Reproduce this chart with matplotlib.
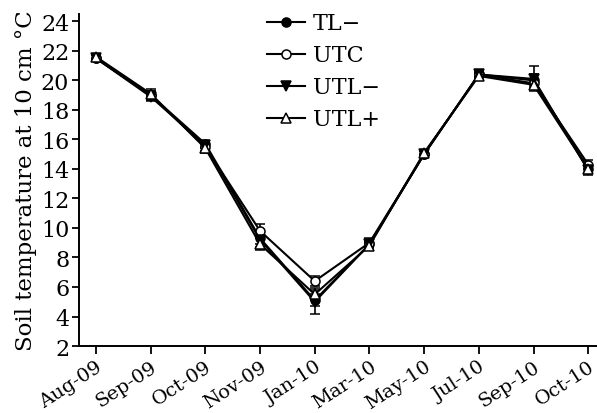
import numpy as np
import matplotlib
matplotlib.use('Agg')
import matplotlib.pyplot as plt

# Data
months = ['Aug-09', 'Sep-09', 'Oct-09', 'Nov-09', 'Jan-10', 'Mar-10',
          'May-10', 'Jul-10', 'Sep-10', 'Oct-10']

tl_minus = [21.5, 19.0, 15.7, 9.3, 5.1, 8.9, 15.0, 20.4, 20.0, 14.0]
tl_minus_err = [0.2, 0.3, 0.2, 0.4, 0.4, 0.2, 0.2, 0.2, 0.4, 0.3]

utc = [21.5, 19.0, 15.5, 9.8, 6.4, 9.0, 15.0, 20.4, 19.8, 14.3]
utc_err = [0.2, 0.3, 0.3, 0.5, 0.35, 0.3, 0.2, 0.2, 0.3, 0.3]

utl_minus = [21.5, 18.9, 15.6, 9.2, 5.0, 8.9, 15.0, 20.4, 20.1, 13.9]
utl_minus_err = [0.2, 0.3, 0.2, 0.5, 0.8, 0.2, 0.2, 0.2, 0.85, 0.3]

utl_plus = [21.6, 19.1, 15.4, 8.9, 5.5, 8.8, 15.1, 20.3, 19.7, 14.0]
utl_plus_err = [0.2, 0.3, 0.3, 0.4, 0.4, 0.2, 0.2, 0.2, 0.3, 0.3]

plt.rcParams['font.family'] = ['DejaVu Serif']

fig = plt.figure(figsize=(5.97, 4.14), dpi=100)
ax = fig.add_axes([0.1323, 0.1618, 0.8677, 0.802])

x = np.arange(len(months))
series = [
    (tl_minus, tl_minus_err, 'o', 'k', 'TL\u2212'),
    (utc, utc_err, 'o', 'w', 'UTC'),
    (utl_minus, utl_minus_err, 'v', 'k', 'UTL\u2212'),
    (utl_plus, utl_plus_err, '^', 'w', 'UTL+'),
]
for vals, err, mk, fc, lab in series:
    ax.errorbar(x, vals, yerr=err, marker=mk, markerfacecolor=fc,
                markeredgecolor='k', markersize=6.5, markeredgewidth=1.1,
                color='k', lw=1.5, ecolor='k', elinewidth=1.2,
                capsize=3.5, capthick=1.2, label=lab)

ax.set_xlim(-0.31, 9.16)
ax.set_ylim(2, 24.5)
ax.set_yticks(np.arange(2, 25, 2))
ax.set_xticks(x)
ax.set_xticklabels(months, rotation=33, ha='right', rotation_mode='anchor',
                   fontsize=14)
ax.tick_params(axis='y', labelsize=16, length=5, width=1.3, direction='out',
               pad=2)
ax.tick_params(axis='x', length=6, width=1.3, direction='out', pad=2)
ax.spines['top'].set_visible(False)
ax.spines['right'].set_visible(False)
ax.spines['left'].set_linewidth(1.4)
ax.spines['bottom'].set_linewidth(1.4)
ax.set_ylabel('Soil temperature at 10 cm \u00b0C', fontsize=16.5, labelpad=3)

handles, labels = ax.get_legend_handles_labels()
handles = [h[0] for h in handles]
ax.legend(handles, labels, loc='upper left', bbox_to_anchor=(0.425, 1.0),
          bbox_transform=fig.transFigure, frameon=False, fontsize=16,
          handlelength=1.7, handletextpad=0.35, labelspacing=0.45,
          borderaxespad=0.2)

fig.savefig('out.png', dpi=100)
